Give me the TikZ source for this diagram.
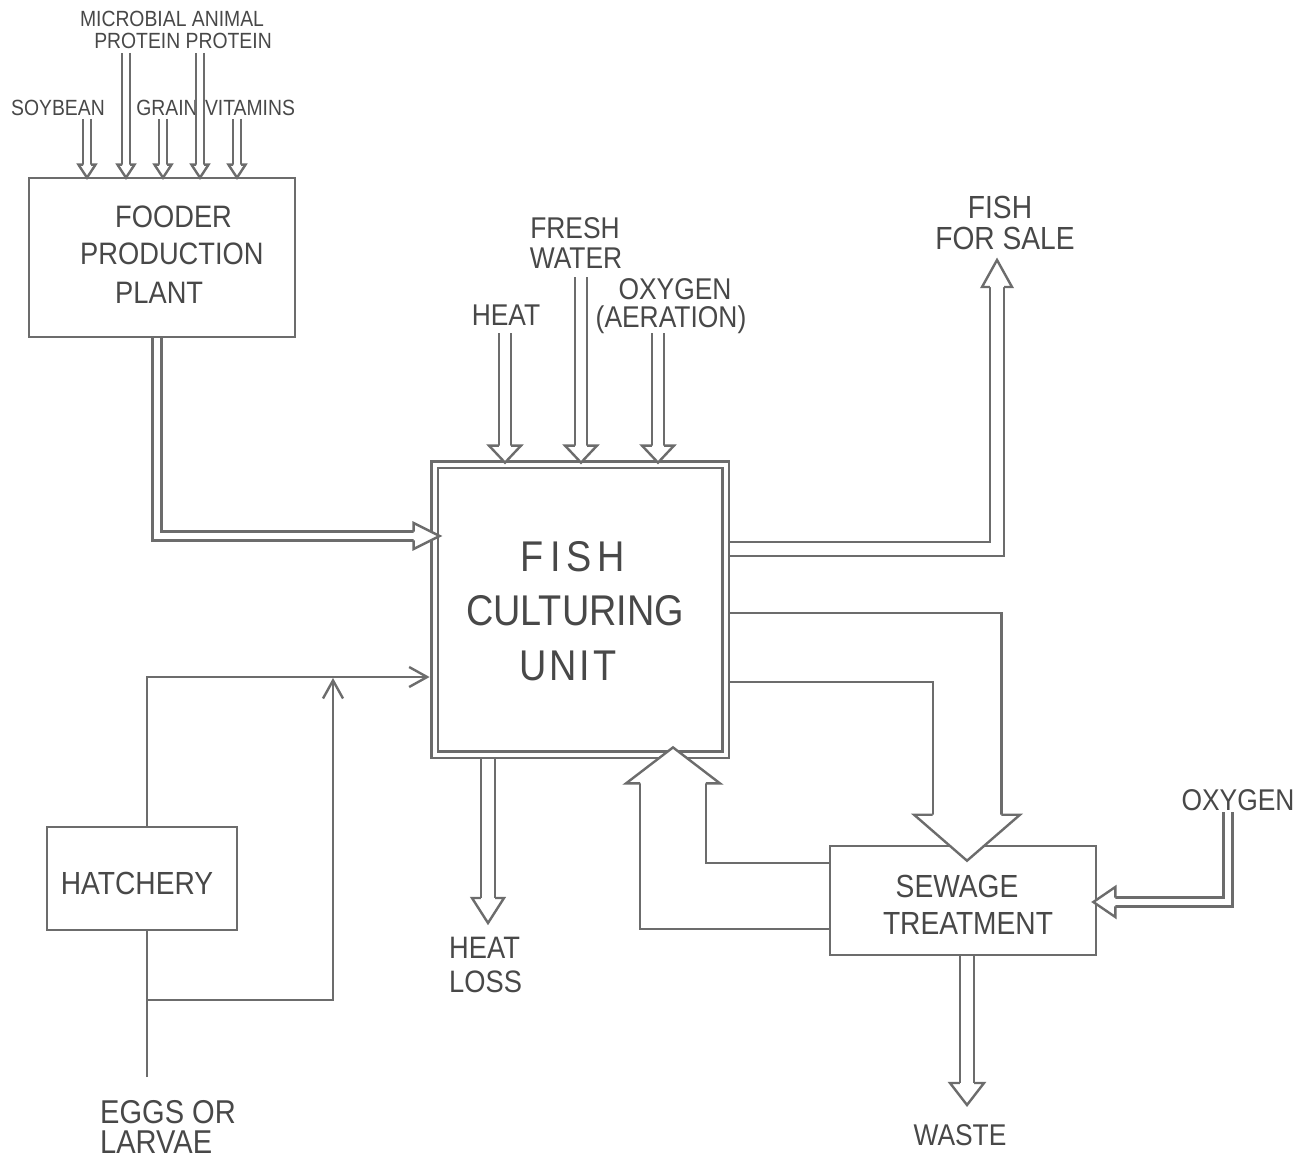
\documentclass[tikz,border=0pt]{standalone}
\usepackage{fontspec}
\setmainfont{Liberation Sans}[FakeStretch=0.88]
\usetikzlibrary{arrows.meta,calc}
\definecolor{ink}{RGB}{108,108,108}
\definecolor{txt}{RGB}{72,72,72}
% block arrow head: tip, direction angle, shaft half width, head half width, head length
\newcommand{\bhead}[5]{\filldraw[bheadsty, shift={(#1)}, rotate=#2] (-#5,#3) -- (-#5,#4) -- (0,0) -- (-#5,-#4) -- (-#5,-#3);}
\tikzset{
  fs/.style={font=\fontsize{#1}{#1}\selectfont},
  lbl/.style={anchor=base, text=txt, inner sep=0pt},
  box/.style={draw=ink, line width=2.6pt, rectangle, inner sep=0pt, outer sep=1.3pt},
  dbl/.style={draw=ink, line width=2.4pt, double=white, double distance=#1, line join=miter},
  bheadsty/.style={draw=ink, fill=white, line width=2.4pt, line join=miter},
  wire/.style={draw=ink, line width=2.4pt, line join=miter},
  barb/.style={-{Straight Barb[length=18pt,width=20pt]}},
}
\begin{document}
\begin{tikzpicture}[x=1pt,y=-1pt]
\fill[white] (0,0) rectangle (1313,1166);
\useasboundingbox (0,0) rectangle (1313,1166);

% ---------- boxes ----------
\node[box, minimum width=266pt, minimum height=159pt] (fpp) at (162,257.5) {};
\node[box, double=white, double distance=4pt, outer sep=4.9pt, minimum width=291pt, minimum height=290pt] (fcu) at (580,609.5) {};
\node[box, minimum width=190pt, minimum height=103pt] (hatch) at (142,878.5) {};
\node[box, minimum width=266pt, minimum height=109pt] (sew) at (963,900.5) {};

% ---------- box texts ----------
\node[lbl, fs=31, anchor=base west] (tfood) at (115,228) {FOODER};
\node[lbl, fs=31, anchor=base west] (tprod) at (80,264.6) {PRODUCTION};
\node[lbl, fs=31, anchor=base west] (tplant) at (115,303) {PLANT};
\node[lbl, fs=43] (tfish) at (573,571.4) {F\hspace{6pt}I\hspace{6pt}S\hspace{6pt}H};
\node[lbl, fs=43] (tcult) at (575,625.4) {CULTURING};
\node[lbl, fs=43] (tunit) at (568,680.4) {U\hspace{3pt}N\hspace{3pt}I\hspace{3pt}T};
\node[lbl, fs=32] (thatch) at (137,894.5) {HATCHERY};
\node[lbl, fs=32] (tsew1) at (957,897) {SEWAGE};
\node[lbl, fs=32] (tsew2) at (968,934) {TREATMENT};

% ---------- labels ----------
\node[lbl, fs=22] (lmic) at (172,27) {MICROBIAL ANIMAL};
\node[lbl, fs=22] (lprot) at (183,49) {PROTEIN PROTEIN};
\node[lbl, fs=22] (lsoy) at (58,116) {SOYBEAN};
\node[lbl, fs=22] (lgrain) at (167,116) {GRAIN};
\node[lbl, fs=22] (lvit) at (250,116) {VITAMINS};
\node[lbl, fs=30] (lheat) at (506,325.7) {HEAT};
\node[lbl, fs=30] (lfresh) at (575,238) {FRESH};
\node[lbl, fs=30] (lfwater) at (576,268) {WATER};
\node[lbl, fs=30] (loxy) at (675,299) {OXYGEN};
\node[lbl, fs=30] (laer) at (671,327) {(AERATION)};
\node[lbl, fs=32] (lfish) at (1000,219) {FISH};
\node[lbl, fs=32] (lsale) at (1005,250) {FOR SALE};
\node[lbl, fs=31] (lpol) at (869,648) {POLLUTED};
\node[lbl, fs=31] (lpwater) at (852,681) {WATER};
\node[lbl, fs=27] (lrec) at (737,897.7) {RECIRCULATED};
\node[lbl, fs=28] (lrwater) at (732,924) {WATER};
\node[lbl, fs=31, anchor=base west] (lhl1) at (449,958) {HEAT};
\node[lbl, fs=31, anchor=base west] (lhl2) at (449,992) {LOSS};
\node[lbl, fs=30] (lwaste) at (960,1145) {WASTE};
\node[lbl, fs=30] (loxy2) at (1238,810) {OXYGEN};
\node[lbl, fs=33, anchor=base west] (legg) at (100,1123) {EGGS OR};
\node[lbl, fs=33, anchor=base west] (llarv) at (100,1153) {LARVAE};

% ---------- inputs to fodder plant ----------
\foreach \i/\x/\y in {1/87/119,2/126/53,3/163/119,4/200/53,5/237/119}{
  \coordinate (s\i) at (\x,\y);
  \coordinate (t\i) at ($(s\i |- fpp.north)+(0,1)$);
  \draw[dbl=5.6pt, shorten >=12pt] (s\i) -- (t\i);
  \bhead{t\i}{-90}{4}{8.5}{13}
}

% ---------- fodder -> fish culturing ----------
\coordinate (fc) at (157,536);
\coordinate (fcs) at (fc |- fpp.south);
\coordinate (fct) at ($(fc -| fcu.west)+(10,0)$);
\draw[dbl=6.3pt, shorten >=25pt] (fcs) -- (fc) -- (fct);
\bhead{fct}{0}{4.35}{13}{26}

% ---------- heat, fresh water, oxygen ----------
\coordinate (hs) at (505,333);
\coordinate (ws) at (581,277);
\coordinate (os) at (658,333);
\foreach \s/\t in {hs/ht,ws/wt,os/ot}{
  \coordinate (\t) at ($(\s |- fcu.north)+(0,3)$);
  \draw[dbl=9.8pt, shorten >=16pt] (\s) -- (\t);
  \bhead{\t}{-90}{6.1}{16}{17}
}

% ---------- fish for sale ----------
\coordinate (fsc) at (997,549);
\coordinate (fss) at (fcu.east |- fsc);
\coordinate (fst) at (997,260);
\draw[dbl=11.8pt, shorten >=26pt] (fss) -- (fsc) -- (fst);
\bhead{fst}{90}{7.1}{15}{27}

% ---------- polluted water ----------
\coordinate (pc) at (967,647.5);
\coordinate (ps) at (fcu.east |- pc);
\coordinate (pt) at ($(pc |- sew.north)+(0,16)$);
\draw[dbl=66.2pt, shorten >=45pt] (ps) -- (pc) -- (pt);
\bhead{pt}{-90}{34.3}{53}{46}

% ---------- recirculated water ----------
\coordinate (rc) at (673,896);
\coordinate (rs) at (sew.west |- rc);
\coordinate (rt) at ($(rc |- fcu.south)+(0,-12)$);
\draw[dbl=63.2pt, shorten >=35pt] (rs) -- (rc) -- (rt);
\bhead{rt}{90}{32.8}{47}{36}

% ---------- heat loss ----------
\coordinate (hlt) at (488,923);
\coordinate (hls) at (hlt |- fcu.south);
\draw[dbl=11.8pt, shorten >=24pt] (hls) -- (hlt);
\bhead{hlt}{-90}{7.1}{16}{25}

% ---------- waste ----------
\coordinate (wst) at (967,1105);
\coordinate (wss) at (wst |- sew.south);
\draw[dbl=11.8pt, shorten >=21pt] (wss) -- (wst);
\bhead{wst}{-90}{7.1}{17}{22}

% ---------- oxygen to sewage ----------
\coordinate (oxs) at (1228,812);
\coordinate (oxc) at (1228,902);
\coordinate (oxt) at ($(oxc -| sew.east)+(-4,0)$);
\draw[dbl=6.3pt, shorten >=21pt] (oxs) -- (oxc) -- (oxt);
\bhead{oxt}{180}{4.35}{15}{22}

% ---------- hatchery and eggs ----------
\coordinate (hc) at (147,677);
\draw[wire, barb] (hc |- hatch.north) -- (hc) -- (hc -| fcu.west);
\coordinate (eg) at (147,1077);
\coordinate (eb) at (147,1000);
\coordinate (ec) at (333,1000);
\coordinate (et) at (333,678);
\draw[wire] (eg) -- (eg |- hatch.south);
\draw[wire, barb] (eb) -- (ec) -- (et);
\end{tikzpicture}
\end{document}
